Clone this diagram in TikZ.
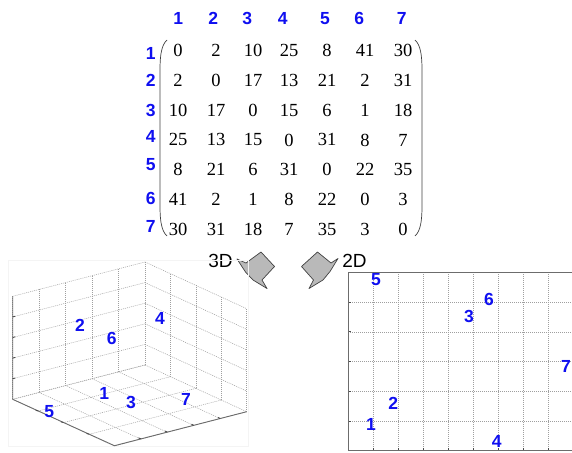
\documentclass[tikz,border=0pt]{standalone}
\usepackage{fontspec}
\setmainfont{Liberation Serif}
\setsansfont{Liberation Sans}
\usetikzlibrary{calc}
\definecolor{lblue}{RGB}{15,15,240}
\begin{document}
\begin{tikzpicture}[x=1pt,y=-1pt,
  lab/.style={font=\sffamily\bfseries\fontsize{17.5}{17.5}\selectfont, text=lblue, inner sep=0pt},
  ent/.style={font=\fontsize{18.5}{18.5}\selectfont, inner sep=0pt},
  gridl/.style={draw=gray!75, line width=0.5pt, dash pattern=on 1pt off 1pt},
  axisl/.style={draw=gray!85!black, line width=0.9pt},
  tickl/.style={draw=gray!60!black, line width=0.9pt},
  paren/.style={draw=black!75, line width=0.7pt},
  arrowshape/.style={fill=gray!55, draw=gray!50!black, line width=0.7pt, line join=round},
  dlabel/.style={font=\sffamily\fontsize{19}{19}\selectfont, inner sep=0pt}]
\useasboundingbox (0,0) rectangle (572,452);
\clip (0,0) rectangle (572,452);

% ---------------- matrix ----------------
\def\colx{{178,216,253,289,327,365,403}}
\def\hdx{{178.3,213.3,247.3,282.7,325,359.3,401.7}}
\def\rly{{53.3,80,110,136.7,165,198.3,226.7}}
\foreach \row [count=\i] in {{0,2,10,25,8,41,30},{2,0,17,13,21,2,31},{10,17,0,15,6,1,18},{25,13,15,0,31,8,7},{8,21,6,31,0,22,35},{41,2,1,8,22,0,3},{30,31,18,7,35,3,0}}{
  \foreach \v [count=\j] in \row {
    \pgfmathsetmacro\xx{\colx[\j-1]}
    \pgfmathsetmacro\yy{50.7+29.75*(\i-1)}
    \node[ent] (m-\i-\j) at (\xx,\yy) {\v};
  }
}
\foreach \k in {1,...,7}{
  \pgfmathsetmacro\hx{\hdx[\k-1]}
  \pgfmathsetmacro\ry{\rly[\k-1]}
  \node[lab] (ch-\k) at (\hx,18.5) {\k};
  \node[lab] (rh-\k) at (150.7,\ry) {\k};
}
\draw[paren] (167,40) .. controls (161.5,45) and (160,55) .. (160,70) -- (160,206) .. controls (160,221) and (161.5,231) .. (167,236);
\draw[paren] (415,40) .. controls (420.5,45) and (422,55) .. (422,70) -- (422,206) .. controls (422,221) and (420.5,231) .. (415,236);

% ---------------- arrows ----------------
\node[dlabel] (t3d) at (220.5,260.7) {3D};
\node[dlabel] (t2d) at (354.5,260.7) {2D};
\draw[arrowshape] (237,259) -- (246,263) -- (261,252) -- (274.5,266.5) -- (262,280) -- (267,288.5) -- (253,280) -- (245.5,272) -- cycle;
\draw[arrowshape] (338,258.5) -- (331,263) -- (317.5,252) -- (301.5,266.5) -- (313.5,280) -- (309,288.5) -- (323,280) -- (330,271.5) -- cycle;

% ---------------- 3D plot ----------------
\draw[draw=gray!9, line width=0.5pt] (8.3,260) rectangle (248.3,446);
\coordinate (B) at (145,365);
\coordinate (L) at (12.7,399.3);
\coordinate (R) at (246.7,411.7);
\coordinate (F) at (114.4,445.7);
% left wall
\foreach \i in {0,...,5}{
  \draw[gridl] ($(B)!{\i/5}!(L)$) -- ++(0,-103);
  \draw[gridl] ($(L)+(0,-\i*20.6)$) -- ($(B)+(0,-\i*20.6)$);
}
% right wall
\foreach \j in {0,...,4}{
  \draw[gridl] ($(B)!{\j/4}!(R)$) -- ++(0,-103);
}
\foreach \i in {1,...,5}{
  \draw[gridl] ($(B)+(0,-\i*20.6)$) -- ($(R)+(0,-\i*20.6)$);
}
% floor
\foreach \i in {0,...,5}{
  \draw[gridl] ($(B)!{\i/5}!(L)$) -- ++(101.7,46.7);
}
\foreach \j in {0,...,4}{
  \draw[gridl] ($(B)!{\j/4}!(R)$) -- ++(-132.3,34.3);
}
% axes
\draw[axisl] ($(L)+(0,-103)$) -- (L) -- (F) -- (R);
\foreach \i in {1,...,4}{
  \draw[tickl] ($(L)+(0,-\i*20.6)$) -- ++(2.6,-0.7);
}
\foreach \j in {1,...,3}{
  \draw[tickl] ($(L)!{\j/4}!(F)$) -- ++(-2.5,-0.65);
}
\foreach \i in {1,...,4}{
  \draw[tickl] ($(F)!{\i/5}!(R)$) -- ++(-2.3,-1.05);
}
\node[lab] (p3-2) at (80,325) {2};
\node[lab] (p3-6) at (111.7,338.3) {6};
\node[lab] (p3-4) at (160,318.3) {4};
\node[lab] (p3-1) at (104.3,393.3) {1};
\node[lab] (p3-3) at (131,402.7) {3};
\node[lab] (p3-7) at (186,399.3) {7};
\node[lab] (p3-5) at (49.3,411.7) {5};

% ---------------- 2D plot ----------------
\foreach \k in {1,...,9}{
  \draw[gridl] (348.3+25*\k,272.3) -- (348.3+25*\k,450.7);
  \draw[tickl] (348.3+25*\k,450.7) -- ++(0,-3);
}
\foreach \k in {1,...,5}{
  \draw[gridl] (348.3,272.3+29.73*\k) -- (600,272.3+29.73*\k);
  \draw[tickl] (348.3,272.3+29.73*\k) -- ++(3,0);
}
\draw[axisl] (348.3,272.3) rectangle (600,450.7);
\node[lab] (p2-5) at (376,280) {5};
\node[lab] (p2-6) at (489,299.3) {6};
\node[lab] (p2-3) at (469,316) {3};
\node[lab] (p2-7) at (566,366) {7};
\node[lab] (p2-2) at (393.3,403.3) {2};
\node[lab] (p2-1) at (371,424.3) {1};
\node[lab] (p2-4) at (496.7,441) {4};
\end{tikzpicture}
\end{document}
